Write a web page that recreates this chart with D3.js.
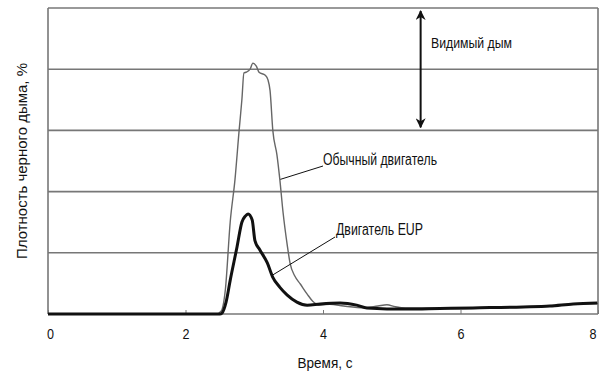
<!DOCTYPE html>
<html><head><meta charset="utf-8">
<script src="https://cdn.jsdelivr.net/npm/d3@7/dist/d3.min.js"></script>
<style>body{margin:0;background:#fff}svg{display:block}</style>
</head><body>
<script>
// Data (time in s, smoke density in % of chart height units 0..100)
const xTicks = [0, 2, 4, 6, 8];
const yGrid = [0, 20, 40, 60, 80, 100];
const convT = [0, 2.45, 2.52, 2.58, 2.65, 2.72, 2.78, 2.82, 2.85, 2.88, 2.94, 2.98, 3.03, 3.07, 3.16, 3.20, 3.23, 3.27, 3.33, 3.37, 3.42, 3.48, 3.52, 3.59, 3.67, 3.77, 3.85, 3.96, 4.1, 4.3, 4.6, 4.8, 4.93, 5.05, 5.2, 5.5, 6.0, 6.5, 7.0, 7.6, 8.0];
const convV = [0, 0, 1, 8, 30, 44, 60, 70, 78.8, 79, 80, 82, 81, 79, 78, 76.5, 73, 60, 52, 44.4, 33, 22.5, 16.7, 12.4, 9.8, 6.5, 4.2, 2.9, 3.2, 2.6, 2.0, 2.6, 3.0, 2.4, 2.0, 2.0, 1.8, 2.0, 2.3, 3.2, 3.4];
const eupT = [0, 2.5, 2.53, 2.59, 2.65, 2.75, 2.82, 2.87, 2.91, 2.97, 3.01, 3.08, 3.19, 3.27, 3.37, 3.48, 3.62, 3.77, 3.96, 4.25, 4.49, 4.64, 5.22, 5.7, 6.18, 6.91, 7.3, 7.64, 7.99];
const eupV = [0, 0, 0.3, 3.9, 11, 22, 30, 32, 32.7, 30.7, 24, 21, 16.7, 12, 8.8, 6.2, 3.9, 2.9, 3.3, 3.6, 2.9, 2.0, 1.6, 1.8, 2.0, 2.3, 2.6, 3.3, 3.6];

const W = 602, H = 376;
const m = {l: 48, r: 4, t: 8, b: 62};
const svg = d3.select("body").append("svg").attr("width", W).attr("height", H);
const x = d3.scaleLinear().domain([0, 8]).range([m.l, W - m.r]);
const y = d3.scaleLinear().domain([0, 100]).range([H - m.b, m.t]);
const font = "'Liberation Sans', Arial, sans-serif";
const grid = "#777";

// gridlines
svg.append("g").selectAll("line").data(yGrid).join("line")
  .attr("x1", x(0)).attr("x2", x(8)).attr("y1", d => y(d)).attr("y2", d => y(d))
  .attr("stroke", grid).attr("stroke-width", 1.6);
// frame sides
svg.append("line").attr("x1", x(0)).attr("x2", x(0)).attr("y1", y(0)).attr("y2", y(100)).attr("stroke", grid).attr("stroke-width", 1.6);
svg.append("line").attr("x1", x(8)).attr("x2", x(8)).attr("y1", y(0)).attr("y2", y(100)).attr("stroke", grid).attr("stroke-width", 1.6);

// x axis
const xAxis = d3.axisBottom(x).tickValues(xTicks).tickSize(-4).tickPadding(14).tickFormat(d3.format("d"));
const gx = svg.append("g").attr("transform", `translate(0,${y(0)})`).call(xAxis);
gx.select(".domain").remove();
gx.selectAll(".tick line").attr("stroke", grid).attr("stroke-width", 1);
gx.selectAll(".tick text").attr("font-family", font).attr("font-size", 15).attr("fill", "#111")
  .attr("textLength", 7).attr("lengthAdjust", "spacingAndGlyphs");
gx.selectAll(".tick text").filter(d => d === 8).attr("text-anchor", "end").attr("dx", "-2");
gx.selectAll(".tick text").filter(d => d === 0).attr("dx", "2");

const line = d3.line().x(d => x(d[0])).y(d => y(d[1])).curve(d3.curveMonotoneX);
const conv = convT.map((t, i) => [t, convV[i]]);
const eup = eupT.map((t, i) => [t, eupV[i]]);
svg.append("path").attr("d", line(conv)).attr("fill", "none").attr("stroke", "#666").attr("stroke-width", 1.4);
svg.append("path").attr("d", line(eup)).attr("fill", "none").attr("stroke", "#111").attr("stroke-width", 3);

// double arrow
const defs = svg.append("defs");
defs.append("marker").attr("id", "ah").attr("viewBox", "0 0 10 10").attr("refX", 9).attr("refY", 5)
  .attr("markerWidth", 5).attr("markerHeight", 5).attr("orient", "auto-start-reverse").attr("markerUnits", "strokeWidth")
  .append("path").attr("d", "M0,0 L10,5 L0,10 L3,5 Z").attr("fill", "#111");
svg.append("line").attr("x1", x(5.42)).attr("x2", x(5.42)).attr("y1", y(99)).attr("y2", y(61))
  .attr("stroke", "#111").attr("stroke-width", 2)
  .attr("marker-start", "url(#ah)").attr("marker-end", "url(#ah)");

function label(xp, yp, txt, len, fs) {
  svg.append("text").attr("x", xp).attr("y", yp).text(txt)
    .attr("font-family", font).attr("font-size", fs).attr("fill", "#111")
    .attr("textLength", len).attr("lengthAdjust", "spacingAndGlyphs");
}
label(431, 48, "Видимый дым", 81, 15);

// labels with leaders
svg.append("line").attr("x1", x(3.38)).attr("y1", y(44)).attr("x2", 323).attr("y2", 166).attr("stroke", "#111").attr("stroke-width", 1);
label(323, 165, "Обычный двигатель", 114, 16);
svg.append("line").attr("x1", x(3.25)).attr("y1", y(12.5)).attr("x2", 335).attr("y2", 237).attr("stroke", "#111").attr("stroke-width", 1);
label(336, 235, "Двигатель EUP", 87, 16);

// axis titles
svg.append("text").attr("x", 325).attr("y", 368).attr("text-anchor", "middle").text("Время, с")
  .attr("font-family", font).attr("font-size", 14).attr("fill", "#111")
  .attr("textLength", 55).attr("lengthAdjust", "spacingAndGlyphs");
svg.append("text").attr("transform", `translate(27,161) rotate(-90)`).attr("text-anchor", "middle")
  .text("Плотность черного дыма, %").attr("font-family", font).attr("font-size", 14).attr("fill", "#111")
  .attr("textLength", 196).attr("lengthAdjust", "spacingAndGlyphs");
</script>
</body></html>
